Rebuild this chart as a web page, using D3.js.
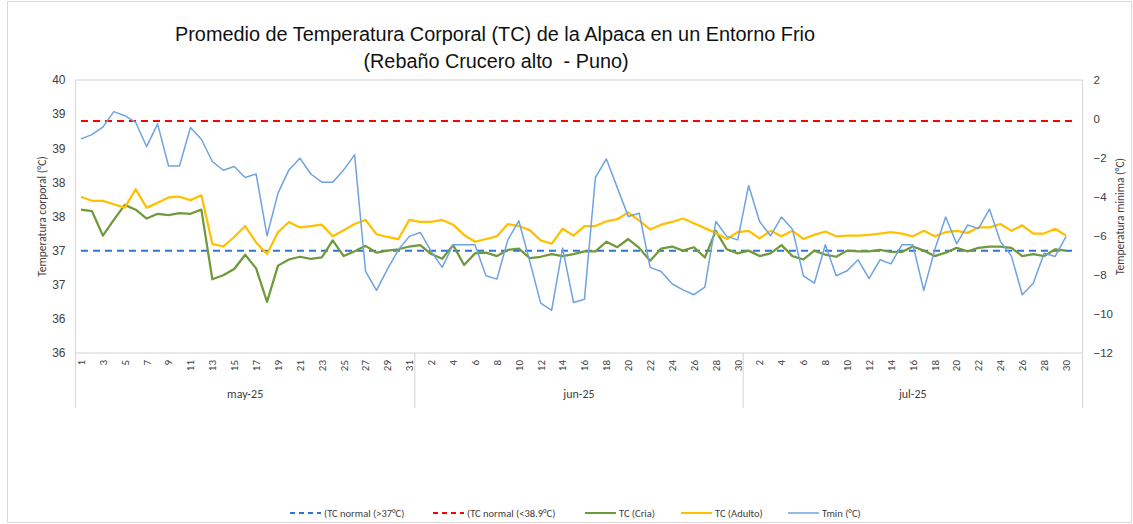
<!DOCTYPE html>
<html>
<head>
<meta charset="utf-8">
<script src="https://cdn.jsdelivr.net/npm/d3@7"></script>
<style>
  html, body { margin: 0; padding: 0; background: #fff; }
  svg { display: block; font-family: Calibri, Carlito, "Liberation Sans", "Open Sans", sans-serif; }
</style>
</head>
<body>
<svg id="chart" width="1133" height="524"></svg>
<script>
// ---------- DATA ----------
const months = ["may-25", "jun-25", "jul-25"];
const monthDays = [31, 30, 31];

const leftTicks = [35.5, 36, 36.5, 37, 37.5, 38, 38.5, 39, 39.5];
const leftTickLabels = ["36", "36", "37", "37", "38", "38", "39", "39", "40"];
const rightTicks = [2, 0, -2, -4, -6, -8, -10, -12];

const tcNormalLow = 37;     // (TC normal (>37°C)
const tcNormalHigh = 38.9;  // (TC normal (<38.9°C)

const tcCria = [
  37.60, 37.58, 37.22, 37.45, 37.67, 37.60, 37.47, 37.54, 37.52, 37.55, 37.54, 37.60,
  36.58, 36.64, 36.73, 36.94, 36.74, 36.25, 36.78, 36.87, 36.91, 36.88, 36.90, 37.15,
  36.92, 36.99, 37.07, 36.97, 37.00, 37.02, 37.06,
  37.08, 36.95, 36.88, 37.08, 36.79, 36.96, 36.97, 36.92, 37.01, 37.03, 36.89, 36.91,
  36.95, 36.92, 36.95, 36.99, 36.99, 37.13, 37.05, 37.17, 37.04, 36.85, 37.03, 37.06,
  37.00, 37.05, 36.90, 37.29, 37.02, 36.96,
  37.00, 36.92, 36.96, 37.08, 36.92, 36.87, 37.00, 36.94, 36.91, 37.00, 36.99, 36.99,
  37.01, 36.98, 36.98, 37.06, 37.00, 36.92, 36.97, 37.04, 36.99, 37.04, 37.06, 37.06,
  37.04, 36.92, 36.95, 36.92, 37.02, 37.00, null
];

const tcAdulto = [
  37.79, 37.73, 37.73, 37.68, 37.63, 37.90, 37.63, 37.70, 37.78, 37.79, 37.74, 37.81,
  37.10, 37.06, 37.20, 37.36, 37.12, 36.95, 37.27, 37.42, 37.34, 37.36, 37.38, 37.21,
  37.30, 37.39, 37.45, 37.24, 37.20, 37.17, 37.45,
  37.42, 37.42, 37.45, 37.38, 37.23, 37.13, 37.17, 37.21, 37.39, 37.36, 37.30, 37.15,
  37.10, 37.32, 37.22, 37.36, 37.36, 37.43, 37.46, 37.56, 37.44, 37.31, 37.38, 37.42,
  37.47, 37.40, 37.33, 37.26, 37.17, 37.27,
  37.29, 37.18, 37.29, 37.21, 37.29, 37.17, 37.23, 37.28, 37.21, 37.22, 37.22, 37.23,
  37.25, 37.27, 37.25, 37.21, 37.29, 37.21, 37.27, 37.29, 37.26, 37.34, 37.34, 37.39,
  37.29, 37.37, 37.25, 37.25, 37.32, 37.22, null
];

const tmin = [
  -1.02, -0.80, -0.42, 0.38, 0.17, -0.17, -1.42, -0.25, -2.41, -2.41, -0.44, -1.04,
  -2.18, -2.63, -2.44, -3.00, -2.82, -5.99, -3.80, -2.61, -2.01, -2.82, -3.24, -3.24,
  -2.61, -1.84, -7.82, -8.79, -7.70, -6.71, -6.02,
  -5.82, -6.79, -7.61, -6.45, -6.45, -6.45, -8.04, -8.21, -6.20, -5.22, -7.29, -9.44,
  -9.82, -6.62, -9.41, -9.24, -3.00, -2.05, -3.52, -5.00, -4.83, -7.61, -7.82, -8.45,
  -8.76, -9.01, -8.62, -5.26, -6.02, -6.20,
  -3.41, -5.26, -5.99, -5.03, -5.65, -8.04, -8.42, -6.45, -8.04, -7.78, -7.22, -8.18,
  -7.22, -7.43, -6.45, -6.45, -8.79, -6.71, -5.03, -6.40, -5.44, -5.62, -4.62, -6.28,
  -7.02, -9.01, -8.42, -6.88, -7.05, -6.02, null
];

const seriesNames = ["(TC normal (>37°C)", "(TC normal (<38.9°C)", "TC (Cria)", "TC (Adulto)", "Tmin (°C)"];
const titleLines = ["Promedio de Temperatura Corporal (TC) de la Alpaca en un Entorno Frio",
                    "(Rebaño Crucero alto  - Puno)"];

// ---------- BUILD CATEGORIES ----------
const categories = [];
months.forEach((m, mi) => {
  for (let d = 1; d <= monthDays[mi]; d++) categories.push({ key: m + "-" + d, month: mi, day: d });
});
const n = categories.length;

// ---------- LAYOUT ----------
const svg = d3.select("#chart");
const plot = { left: 75.5, right: 1082.5, top: 80, bottom: 353 };

const COL = {
  lowRef: "#2E75D0",
  highRef: "#FF0000",
  cria: "#6F9A3C",
  adulto: "#FFC000",
  tmin: "#6FA3E0",
  grid: "#D9D9D9",
  text: "#404040"
};

// outer chart border
svg.append("rect").attr("x", 7.5).attr("y", 1.5).attr("width", 1124).attr("height", 521)
  .attr("fill", "none").attr("stroke", COL.grid).attr("stroke-width", 1);

const x = d3.scaleBand().domain(categories.map(c => c.key)).range([plot.left, plot.right]).padding(0);
const cx = i => x(categories[i].key) + x.bandwidth() / 2;
const yL = d3.scaleLinear().domain([35.5, 39.5]).range([plot.bottom, plot.top]);
const yR = d3.scaleLinear().domain([-12, 2]).range([plot.bottom, plot.top]);

// plot border
svg.append("rect").attr("x", plot.left).attr("y", plot.top)
  .attr("width", plot.right - plot.left).attr("height", plot.bottom - plot.top)
  .attr("fill", "none").attr("stroke", COL.grid).attr("stroke-width", 1.2);

// left axis
const leftAxis = d3.axisLeft(yL).tickValues(leftTicks).tickSize(0).tickPadding(10)
  .tickFormat((d, i) => leftTickLabels[i]);
const gL = svg.append("g").attr("transform", `translate(${plot.left},0)`).call(leftAxis);
gL.select(".domain").remove();
gL.selectAll("text").attr("fill", COL.text).style("font-size", "12px");

// right axis
const rightAxis = d3.axisRight(yR).tickValues(rightTicks).tickSize(0).tickPadding(11)
  .tickFormat(d3.format("d"));
const gR = svg.append("g").attr("transform", `translate(${plot.right},0)`).call(rightAxis);
gR.select(".domain").remove();
gR.selectAll("text").attr("fill", COL.text).style("font-size", "11.5px");

// category axis: day labels
const gX = svg.append("g");
categories.forEach((c, i) => {
  if (i % 2 !== 0) return;
  gX.append("text")
    .attr("transform", `translate(${cx(i)},${plot.bottom + 7}) rotate(-90)`)
    .attr("text-anchor", "end").attr("dy", "0.35em")
    .attr("fill", COL.text).style("font-size", "11px")
    .text(c.day);
});
// month separators & labels
let start = 0;
const sepBottom = 408;
svg.append("line").attr("x1", plot.left).attr("x2", plot.left).attr("y1", plot.bottom).attr("y2", sepBottom)
  .attr("stroke", COL.grid).attr("stroke-width", 1.2);
months.forEach((m, mi) => {
  const end = start + monthDays[mi] - 1;
  const x0 = x(categories[start].key);
  const x1 = x(categories[end].key) + x.bandwidth();
  svg.append("line").attr("x1", x1).attr("x2", x1).attr("y1", plot.bottom).attr("y2", sepBottom)
    .attr("stroke", COL.grid).attr("stroke-width", 1.2);
  svg.append("text").attr("x", (x0 + x1) / 2).attr("y", 398)
    .attr("text-anchor", "middle").attr("fill", COL.text).style("font-size", "12px").text(m);
  start = end + 1;
});

// axis titles
svg.append("text").attr("transform", `translate(46,${(plot.top + plot.bottom) / 2}) rotate(-90)`)
  .attr("text-anchor", "middle").attr("fill", COL.text).style("font-size", "11.5px")
  .text("Temperatura corporal (°C)");
svg.append("text").attr("transform", `translate(1124,${(plot.top + plot.bottom) / 2}) rotate(-90)`)
  .attr("text-anchor", "middle").attr("fill", COL.text).style("font-size", "11.5px")
  .text("Temperatura minima (°C)");

// title
svg.append("text").attr("x", 495).attr("y", 41).attr("text-anchor", "middle")
  .attr("fill", "#111").style("font-size", "20px").style("white-space", "pre")
  .style("font-family", "'Liberation Sans Narrow', 'Liberation Sans', sans-serif")
  .attr("textLength", 640).attr("lengthAdjust", "spacingAndGlyphs").text(titleLines[0]);
svg.append("text").attr("x", 496).attr("y", 68).attr("text-anchor", "middle")
  .attr("fill", "#111").style("font-size", "20px").style("white-space", "pre")
  .style("font-family", "'Liberation Sans Narrow', 'Liberation Sans', sans-serif")
  .attr("textLength", 265).attr("lengthAdjust", "spacingAndGlyphs").text(titleLines[1]);

// ---------- SERIES ----------
const idx = d3.range(n);
const lineL = vals => d3.line().defined(i => vals[i] != null).x(i => cx(i)).y(i => yL(vals[i]));
const lineR = vals => d3.line().defined(i => vals[i] != null).x(i => cx(i)).y(i => yR(vals[i]));

const lowVals = idx.map(() => tcNormalLow);
const highVals = idx.map(() => tcNormalHigh);

const marks = svg.append("g");
marks.append("path").attr("d", lineL(lowVals)(idx)).attr("fill", "none")
  .attr("stroke", COL.lowRef).attr("stroke-width", 2).attr("stroke-dasharray", "7,5");
marks.append("path").attr("d", lineL(highVals)(idx)).attr("fill", "none")
  .attr("stroke", COL.highRef).attr("stroke-width", 2).attr("stroke-dasharray", "7,5");
marks.append("path").attr("d", lineL(tcCria)(idx)).attr("fill", "none")
  .attr("stroke", COL.cria).attr("stroke-width", 2.25).attr("stroke-linejoin", "round");
marks.append("path").attr("d", lineL(tcAdulto)(idx)).attr("fill", "none")
  .attr("stroke", COL.adulto).attr("stroke-width", 2.25).attr("stroke-linejoin", "round");
marks.append("path").attr("d", lineR(tmin)(idx)).attr("fill", "none")
  .attr("stroke", COL.tmin).attr("stroke-width", 1.5).attr("stroke-linejoin", "round");

// ---------- LEGEND ----------
const legendItems = [
  { name: seriesNames[0], color: COL.lowRef, dash: "5,4", w: 2, x: 290 },
  { name: seriesNames[1], color: COL.highRef, dash: "5,4", w: 2, x: 433 },
  { name: seriesNames[2], color: COL.cria, dash: null, w: 2, x: 585 },
  { name: seriesNames[3], color: COL.adulto, dash: null, w: 2, x: 681 },
  { name: seriesNames[4], color: COL.tmin, dash: null, w: 1.5, x: 788 }
];
const ly = 513;
const lg = svg.append("g");
legendItems.forEach(it => {
  lg.append("line").attr("x1", it.x).attr("x2", it.x + 31).attr("y1", ly).attr("y2", ly)
    .attr("stroke", it.color).attr("stroke-width", it.w)
    .attr("stroke-dasharray", it.dash);
  lg.append("text").attr("x", it.x + 34).attr("y", ly).attr("dy", "0.35em")
    .attr("fill", COL.text).style("font-size", "10.5px").text(it.name);
});
</script>
</body>
</html>
